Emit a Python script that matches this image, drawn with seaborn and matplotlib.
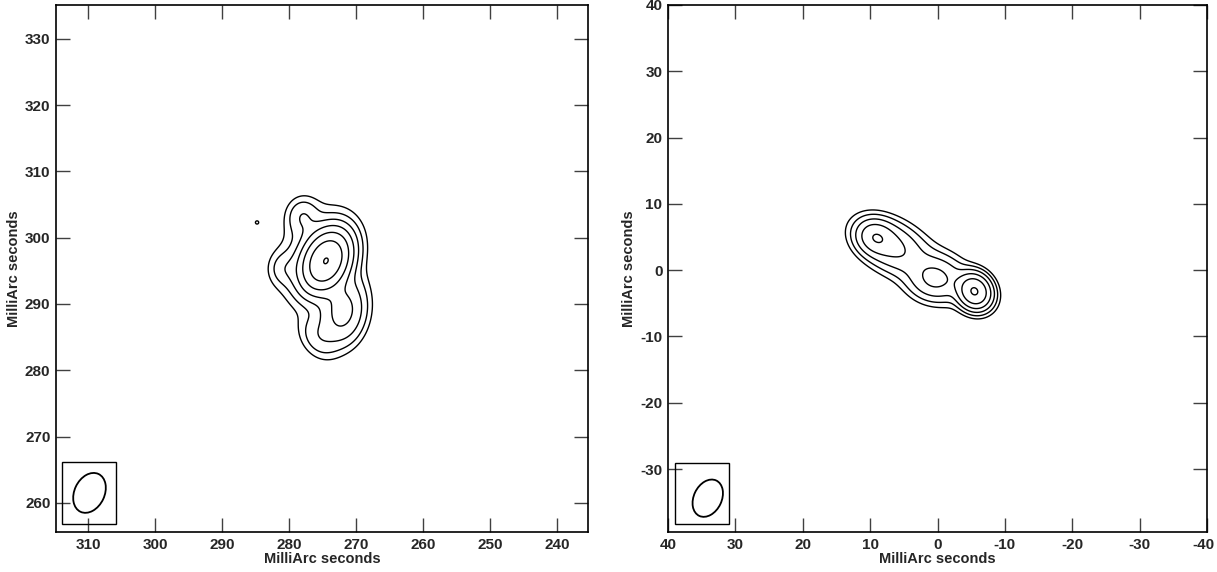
import numpy as np
import matplotlib
matplotlib.use("Agg")
import matplotlib.pyplot as plt
import matplotlib.transforms as mtransforms
from matplotlib.patches import Ellipse, Rectangle
import seaborn as sns

# --- components (mas, amplitude in units of the lowest contour) ---
left_x = [274.5, 275.5, 272.0, 278.0, 280.8, 275.8, 284.8]
left_y = [296.5, 297.0, 288.8, 303.2, 295.3, 285.0, 302.3]
left_amp = [61.5, 3.5, 10.0, 3.2, 2.2, 2.6, 1.08]
left_smaj = [2.6, 4.8, 3.0, 1.8, 1.6, 2.2, 0.5]
left_smin = [1.8, 3.6, 2.0, 1.5, 1.4, 1.6, 0.5]
left_pa = [25, 20, 10, 0, 0, -30, 0]

right_x = [9.3, 7.0, 0.3, -5.5, 2.0]
right_y = [5.0, 3.8, -1.3, -3.2, 0.5]
right_amp = [10.0, 8.3, 8.0, 33.0, 2.0]
right_smaj = [1.6, 3.1, 2.3, 1.55, 6.5]
right_smin = [1.4, 2.0, 1.9, 1.35, 2.6]
right_pa = [119, 120, 95, 150, 120]

levels = [1, 2, 4, 8, 16, 32, 64]

left_xlim = (314.8, 235.4)
left_ylim = (255.6, 335.1)
left_xticks = [310, 300, 290, 280, 270, 260, 250, 240]
left_yticks = [260, 270, 280, 290, 300, 310, 320, 330]

right_xlim = (40, -40)
right_ylim = (-39.5, 40)
right_xticks = [40, 30, 20, 10, 0, -10, -20, -30, -40]
right_yticks = [-30, -20, -10, 0, 10, 20, 30, 40]

# beam: centre, major, minor, angle ; box: x0, x1, y0, y1
left_beam = (309.8, 261.5, 6.3, 4.5, 25)
left_box = (313.9, 305.9, 256.8, 266.1)
right_beam = (34.1, -34.4, 5.9, 4.15, 25)
right_box = (39.0, 30.9, -38.3, -29.1)


def model(xx, yy, xs, ys, amps, smaj, smin, pa):
    z = np.zeros_like(xx)
    for x0, y0, a, sa, sb, t in zip(xs, ys, amps, smaj, smin, pa):
        th = np.deg2rad(t)
        u = x0 - xx          # screen right is decreasing RA
        v = yy - y0
        p = u * np.sin(th) + v * np.cos(th)
        q = u * np.cos(th) - v * np.sin(th)
        z += a * np.exp(-0.5 * (p ** 2 / sa ** 2 + q ** 2 / sb ** 2))
    return z


sns.set_theme(style="ticks")
plt.rcParams["font.family"] = ["Liberation Sans", "DejaVu Sans"]
plt.rcParams["font.weight"] = "bold"
plt.rcParams["axes.unicode_minus"] = False

fig = plt.figure(figsize=(12.17, 5.72), dpi=100)
ax1 = fig.add_axes([56 / 1217, 40 / 572, 532 / 1217, 527 / 572])
ax2 = fig.add_axes([668 / 1217, 40 / 572, 539 / 1217, 527 / 572])

panels = [
    (ax1, left_x, left_y, left_amp, left_smaj, left_smin, left_pa,
     left_xlim, left_ylim, left_xticks, left_yticks, left_beam, left_box),
    (ax2, right_x, right_y, right_amp, right_smaj, right_smin, right_pa,
     right_xlim, right_ylim, right_xticks, right_yticks, right_beam, right_box),
]

for (ax, xs, ys, amps, sa, sb, pa, xl, yl, xt, yt, beam, box) in panels:
    gx = np.linspace(min(xl), max(xl), 700)
    gy = np.linspace(min(yl), max(yl), 700)
    xx, yy = np.meshgrid(gx, gy)
    zz = model(xx, yy, xs, ys, amps, sa, sb, pa)
    ax.contour(xx, yy, zz, levels=levels, colors="black", linewidths=1.0)

    bx, by, bmaj, bmin, bang = beam
    ax.add_patch(Rectangle((box[1], box[2]), box[0] - box[1], box[3] - box[2],
                           fill=False, edgecolor="black", linewidth=1.0, zorder=3))
    ax.add_patch(Ellipse((bx, by), bmin, bmaj, angle=bang, fill=False,
                         edgecolor="black", linewidth=1.3, zorder=3))

    ax.set_xlim(xl)
    ax.set_ylim(yl)
    ax.set_xticks(xt)
    ax.set_yticks(yt)
    ax.tick_params(direction="in", top=True, right=True, length=10, width=1.0,
                   color="0.25", labelsize=11, pad=4)
    for lab in ax.get_xticklabels() + ax.get_yticklabels():
        lab.set_fontweight("bold")
    for sp in ax.spines.values():
        sp.set_linewidth(1.2)
        sp.set_color("black")
    ax.set_xlabel("MilliArc seconds", fontsize=10.5, fontweight="bold", labelpad=0)
    ax.set_ylabel("MilliArc seconds", fontsize=10.5, fontweight="bold", labelpad=3)
    ax.set_aspect("auto")

# last label on the right map sits slightly inside the figure edge
last = ax2.get_xticklabels()[-1]
last.set_transform(last.get_transform() +
                   mtransforms.ScaledTranslation(-4 / 100, 0, fig.dpi_scale_trans))

fig.savefig("out.png", dpi=100)
